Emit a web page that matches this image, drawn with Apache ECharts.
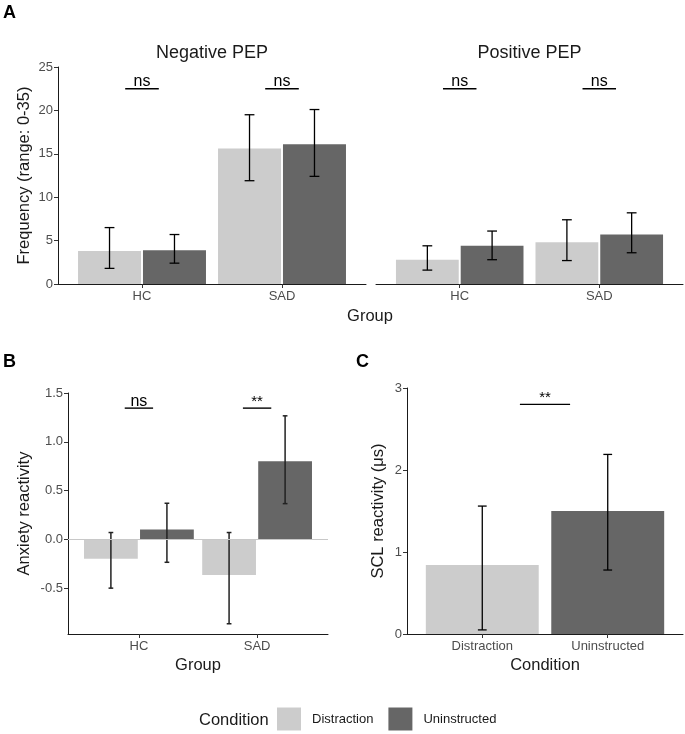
<!DOCTYPE html>
<html><head><meta charset="utf-8">
<script src="https://cdn.jsdelivr.net/npm/echarts@6/dist/echarts.min.js"></script>
<style>html,body{margin:0;padding:0;background:#fff}#chart{width:685px;height:734px}</style>
</head><body><div id="chart"></div>
<script>
// ---------------- data ----------------
const groups = ['HC', 'SAD'];
const conditions = ['Distraction', 'Uninstructed'];
// Panel A: Negative PEP
const negDistMean = [3.8, 15.6], negDistLo = [1.8, 11.9], negDistHi = [6.5, 19.5];
const negUninMean = [3.9, 16.1], negUninLo = [2.4, 12.4], negUninHi = [5.7, 20.1];
// Panel A: Positive PEP
const posDistMean = [2.8, 4.8], posDistLo = [1.6, 2.7], posDistHi = [4.4, 7.4];
const posUninMean = [4.4, 5.7], posUninLo = [2.8, 3.6], posUninHi = [6.1, 8.2];
// Panel B: Anxiety reactivity
const anxDistMean = [-0.2, -0.365], anxDistLo = [-0.5, -0.865], anxDistHi = [0.07, 0.07];
const anxUninMean = [0.1, 0.8], anxUninLo = [-0.235, 0.366], anxUninHi = [0.37, 1.266];
// Panel C: SCL reactivity
const sclMean = [0.84, 1.5], sclLo = [0.05, 0.78], sclHi = [1.56, 2.19];
// significance labels
const negSig = ['ns', 'ns'], posSig = ['ns', 'ns'], anxSig = ['ns', '**'], sclSig = ['**'];
const freqSigY = 22.5, anxSigY = 1.345, sclSigY = 2.8;
// tick labels
const freqTicks = [0, 5, 10, 15, 20, 25];
const anxTicks = [-0.5, 0, 0.5, 1, 1.5];
const sclTicks = [0, 1, 2, 3];

// ---------------- style ----------------
const FONT = 'Liberation Sans, Arial, Helvetica, sans-serif';
const C_DIST = '#cccccc', C_UNIN = '#666666';
const TXT = '#1a1a1a', TICKTXT = '#4d4d4d';

function rows(mean, lo, hi) {
  return mean.map((m, i) => [i + 1, m, lo[i], hi[i]]);
}

function barRender(offset, barW, capW, errColor, errWidth) {
  return function (params, api) {
    const x = api.value(0) + offset;
    const v = api.value(1), lo = api.value(2), hi = api.value(3);
    const a = api.coord([x - barW / 2, 0]);
    const b = api.coord([x + barW / 2, v]);
    const t = api.coord([x, hi]), d = api.coord([x, lo]);
    const cl = api.coord([x - capW / 2, hi])[0], cr = api.coord([x + capW / 2, hi])[0];
    const es = { stroke: errColor, lineWidth: errWidth };
    return {
      type: 'group',
      children: [
        { type: 'rect', shape: { x: Math.min(a[0], b[0]), y: Math.min(a[1], b[1]), width: Math.abs(b[0] - a[0]), height: Math.abs(b[1] - a[1]) }, style: { fill: api.visual('color') } },
        { type: 'line', z2: 5, shape: { x1: t[0], y1: t[1], x2: d[0], y2: d[1] }, style: es },
        { type: 'line', z2: 5, shape: { x1: cl, y1: t[1], x2: cr, y2: t[1] }, style: es },
        { type: 'line', z2: 5, shape: { x1: cl, y1: d[1], x2: cr, y2: d[1] }, style: es }
      ]
    };
  };
}

function sigRender(labels) {
  return function (params, api) {
    const p1 = api.coord([api.value(0), api.value(2)]);
    const p2 = api.coord([api.value(1), api.value(2)]);
    const lab = labels[params.dataIndex];
    return {
      type: 'group',
      children: [
        { type: 'line', shape: { x1: p1[0], y1: p1[1], x2: p2[0], y2: p2[1] }, style: { stroke: '#000', lineWidth: 1.4 } },
        { type: 'text', x: (p1[0] + p2[0]) / 2, y: p1[1] + 1,
          style: { text: lab, fill: '#000', font: (lab === '**' ? '15px ' : '16px ') + FONT, align: 'center', verticalAlign: 'bottom' } }
      ]
    };
  };
}

function xAxisCfg(gridIndex, cats, extra) {
  return Object.assign({
    type: 'value', gridIndex, min: 0.4, max: 2.6,
    axisLine: { show: true, onZero: false, lineStyle: { color: TXT, width: 1 } },
    axisTick: { show: true, customValues: [1, 2], length: 4, lineStyle: { color: '#333', width: 1 } },
    axisLabel: { customValues: [1, 2], formatter: v => cats[Math.round(v) - 1], color: TICKTXT, fontSize: 13, fontFamily: FONT, margin: 6 },
    splitLine: { show: false }
  }, extra || {});
}
function yAxisCfg(gridIndex, min, max, ticks, fmt, extra) {
  return Object.assign({
    type: 'value', gridIndex, min, max,
    axisLine: { show: true, onZero: false, lineStyle: { color: TXT, width: 1 } },
    axisTick: { show: true, customValues: ticks, length: 4, lineStyle: { color: '#333', width: 1 } },
    axisLabel: { customValues: ticks, formatter: fmt, color: TICKTXT, fontSize: 13, fontFamily: FONT, margin: 5 },
    splitLine: { show: false },
    nameLocation: 'middle', nameRotate: 90, nameMoveOverlap: false,
    nameTextStyle: { color: TXT, fontSize: 16.5, fontFamily: FONT }
  }, extra || {});
}

const grids = [
  { left: 58, top: 67, width: 308, height: 217 },
  { left: 376, top: 67, width: 307, height: 217 },
  { left: 68, top: 393, width: 260, height: 241 },
  { left: 407, top: 388, width: 276, height: 246 }
].map(g => Object.assign({ containLabel: false, outerBoundsMode: 'none' }, g));

const option = {
  animation: false,
  backgroundColor: '#ffffff',
  textStyle: { fontFamily: FONT },
  grid: grids,
  xAxis: [
    xAxisCfg(0, groups),
    xAxisCfg(1, groups),
    xAxisCfg(2, groups, { name: 'Group', nameLocation: 'middle', nameGap: 23, nameMoveOverlap: false, nameTextStyle: { color: TXT, fontSize: 16.5, fontFamily: FONT } }),
    xAxisCfg(3, conditions, { name: 'Condition', nameLocation: 'middle', nameGap: 23, nameMoveOverlap: false, nameTextStyle: { color: TXT, fontSize: 16.5, fontFamily: FONT } })
  ],
  yAxis: [
    yAxisCfg(0, 0, 25, freqTicks, v => String(v), { name: 'Frequency (range: 0-35)', nameGap: 25 }),
    yAxisCfg(1, 0, 25, freqTicks, v => String(v), { show: false }),
    yAxisCfg(2, -0.97, 1.5, anxTicks, v => v.toFixed(1), { name: 'Anxiety reactivity', nameGap: 35 }),
    yAxisCfg(3, 0, 3, sclTicks, v => String(v), { name: 'SCL reactivity (\u03bcs)', nameGap: 20 })
  ],
  legend: {
    data: conditions, left: 277, top: 707.5, orient: 'horizontal', padding: 0,
    itemWidth: 24, itemHeight: 23, itemGap: 15, icon: 'rect', selectedMode: false,
    textStyle: { fontSize: 13, color: TXT, fontFamily: FONT, padding: [0, 0, 0, 6] }
  },
  series: [
    // Panel A left
    { type: 'custom', name: 'Distraction', xAxisIndex: 0, yAxisIndex: 0, itemStyle: { color: C_DIST }, data: rows(negDistMean, negDistLo, negDistHi), renderItem: barRender(-0.232, 0.45, 0.07, '#000', 1.3) },
    { type: 'custom', name: 'Uninstructed', xAxisIndex: 0, yAxisIndex: 0, itemStyle: { color: C_UNIN }, data: rows(negUninMean, negUninLo, negUninHi), renderItem: barRender(0.232, 0.45, 0.07, '#000', 1.3) },
    { type: 'custom', name: 'sigA1', xAxisIndex: 0, yAxisIndex: 0, data: groups.map((g, i) => [i + 0.88, i + 1.12, freqSigY]), renderItem: sigRender(negSig) },
    // Panel A right
    { type: 'custom', name: 'Distraction', xAxisIndex: 1, yAxisIndex: 1, itemStyle: { color: C_DIST }, data: rows(posDistMean, posDistLo, posDistHi), renderItem: barRender(-0.232, 0.45, 0.07, '#000', 1.3) },
    { type: 'custom', name: 'Uninstructed', xAxisIndex: 1, yAxisIndex: 1, itemStyle: { color: C_UNIN }, data: rows(posUninMean, posUninLo, posUninHi), renderItem: barRender(0.232, 0.45, 0.07, '#000', 1.3) },
    { type: 'custom', name: 'sigA2', xAxisIndex: 1, yAxisIndex: 1, data: groups.map((g, i) => [i + 0.88, i + 1.12, freqSigY]), renderItem: sigRender(posSig) },
    // Panel B
    { type: 'custom', name: 'Distraction', xAxisIndex: 2, yAxisIndex: 2, itemStyle: { color: C_DIST }, data: rows(anxDistMean, anxDistLo, anxDistHi), renderItem: barRender(-0.237, 0.455, 0.04, '#222', 1.5),
      markLine: { silent: true, symbol: 'none', label: { show: false }, lineStyle: { color: '#c8c8c8', type: 'solid', width: 1 }, data: [{ yAxis: 0 }] } },
    { type: 'custom', name: 'Uninstructed', xAxisIndex: 2, yAxisIndex: 2, itemStyle: { color: C_UNIN }, data: rows(anxUninMean, anxUninLo, anxUninHi), renderItem: barRender(0.237, 0.455, 0.04, '#222', 1.5) },
    { type: 'custom', name: 'sigB', xAxisIndex: 2, yAxisIndex: 2, data: groups.map((g, i) => [i + 0.88, i + 1.12, anxSigY]), renderItem: sigRender(anxSig) },
    // Panel C
    { type: 'custom', name: 'Distraction', xAxisIndex: 3, yAxisIndex: 3, itemStyle: { color: C_DIST }, data: [[1, sclMean[0], sclLo[0], sclHi[0]]], renderItem: barRender(0, 0.9, 0.07, '#000', 1.3) },
    { type: 'custom', name: 'Uninstructed', xAxisIndex: 3, yAxisIndex: 3, itemStyle: { color: C_UNIN }, data: [[2, sclMean[1], sclLo[1], sclHi[1]]], renderItem: barRender(0, 0.9, 0.07, '#000', 1.3) },
    { type: 'custom', name: 'sigC', xAxisIndex: 3, yAxisIndex: 3, data: [[1.3, 1.7, sclSigY]], renderItem: sigRender(sclSig) }
  ],
  graphic: [
    { type: 'text', left: 3, top: 4, style: { text: 'A', font: 'bold 18px ' + FONT, fill: '#000' } },
    { type: 'text', left: 3, top: 353, style: { text: 'B', font: 'bold 18px ' + FONT, fill: '#000' } },
    { type: 'text', left: 356, top: 353, style: { text: 'C', font: 'bold 18px ' + FONT, fill: '#000' } },
    { type: 'text', x: 212, y: 53, style: { text: 'Negative PEP', font: '18px ' + FONT, fill: TXT, align: 'center', verticalAlign: 'middle' } },
    { type: 'text', x: 529.5, y: 53, style: { text: 'Positive PEP', font: '18px ' + FONT, fill: TXT, align: 'center', verticalAlign: 'middle' } },
    { type: 'text', x: 370, y: 316, style: { text: 'Group', font: '16.5px ' + FONT, fill: TXT, align: 'center', verticalAlign: 'middle' } },
    { type: 'text', x: 199, y: 720, style: { text: 'Condition', font: '16.5px ' + FONT, fill: TXT, align: 'left', verticalAlign: 'middle' } }
  ]
};

const chart = echarts.init(document.getElementById('chart'), null, { renderer: 'canvas' });
chart.setOption(option);
</script>
</body></html>
